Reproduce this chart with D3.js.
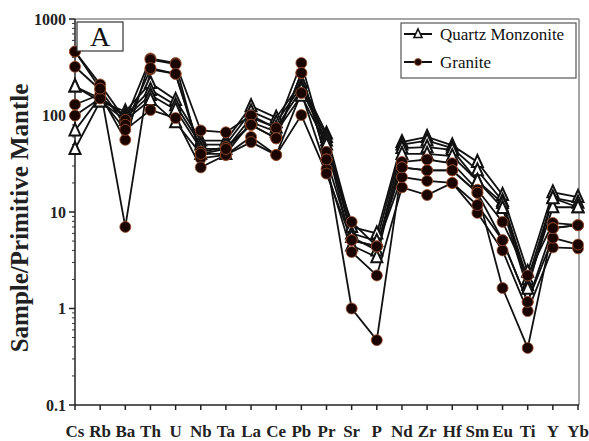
<!DOCTYPE html>
<html>
<head>
<meta charset="utf-8">
<script src="https://cdn.jsdelivr.net/npm/d3@7/dist/d3.min.js"></script>
<style>
  html, body { margin: 0; padding: 0; background: #fff; }
  svg { display: block; }
</style>
</head>
<body>
<svg id="chart" width="589" height="441" font-family="'Liberation Serif', 'Times New Roman', 'DejaVu Serif', serif"></svg>
<script>
// Trace elements, primitive-mantle normalised
const elements = ["Cs","Rb","Ba","Th","U","Nb","Ta","La","Ce","Pb","Pr","Sr","P","Nd","Zr","Hf","Sm","Eu","Ti","Y","Yb"];

// Quartz monzonite samples
const qm1 = [200,140,110,217,145,55,55,125,95,220,65,7.0,6.0,53,60,49,33,15,2.4,16,14.3];
const qm2 = [200,150,100,184,128,50,50,110,85,200,60,6.0,5.0,50,55,46,27,13,2.0,14,12.5];
const qm3 = [70,155,95,163,115,45,45,95,75,185,55,5.5,4.0,46,47,44,21,12.4,1.75,11.2,11.2];
const qm4 = [45,140,90,145,85,40,40,85,68,160,50,4.5,3.4,40,40,38,21,11,1.6,13.9,11.2];

// Granite samples
const gr1 = [460,210,90,390,350,70,67,100,74,350,42,7.9,4.4,33,35,32,17,7.9,2.2,7.7,7.3];
const gr2 = [320,185,80,300,270,42,47,80,58,275,35,5.1,4.4,29,27,27,15.8,5.1,1.17,6.8,7.3];
const gr3 = [130,165,56,380,340,36,39,60,39,171,28,3.85,2.2,18,15,20,9.8,4.0,0.94,4.3,4.2];
const gr4 = [100,150,71,114,94,29,39,53,39,101,25,5.1,4.4,23,21,20,11.8,5.1,1.17,5.4,4.6];
const gr5 = [460,190,7,310,270,40,45,80,58,276,35,1.0,0.47,29,27,27,15.8,1.63,0.39,6.8,7.3];

const quartzMonzonite = [qm1, qm2, qm3, qm4];
const granite = [gr1, gr2, gr3, gr4, gr5];

const yTicks = [0.1, 1, 10, 100, 1000];
const legendLabels = ["Quartz Monzonite", "Granite"];
const panelLabel = "A";
const yTitle = "Sample/Primitive Mantle";

const svg = d3.select("#chart");
const m = { left: 75, right: 578, top: 19, bottom: 405 };

const x = d3.scalePoint().domain(elements).range([m.left, m.right]);
const y = d3.scaleLog().domain([0.1, 1000]).range([m.bottom, m.top]);

// frame: grey top and right edges
svg.append("line").attr("x1", m.left).attr("x2", m.right + 1).attr("y1", m.top).attr("y2", m.top)
  .attr("stroke", "#888").attr("stroke-width", 1.5);
svg.append("line").attr("x1", m.right + 1).attr("x2", m.right + 1).attr("y1", m.top).attr("y2", m.bottom)
  .attr("stroke", "#888").attr("stroke-width", 1.5);

// y axis with log minor ticks
const minor = [];
for (let e = -1; e < 3; e++) for (let k = 2; k <= 9; k++) minor.push(k * Math.pow(10, e));
const yAxisG = svg.append("g").attr("transform", `translate(${m.left},0)`);
yAxisG.append("line").attr("x1", 0).attr("x2", 0).attr("y1", m.top).attr("y2", m.bottom)
  .attr("stroke", "#222").attr("stroke-width", 1.5);
yAxisG.selectAll(".minor").data(minor).join("line")
  .attr("x1", -3).attr("x2", 0).attr("y1", d => y(d)).attr("y2", d => y(d))
  .attr("stroke", "#333").attr("stroke-width", 1);
yAxisG.selectAll(".major").data(yTicks).join("line")
  .attr("x1", -6).attr("x2", 0).attr("y1", d => y(d)).attr("y2", d => y(d))
  .attr("stroke", "#222").attr("stroke-width", 1.5);
yAxisG.selectAll(".lab").data(yTicks).join("text")
  .attr("x", -9).attr("y", d => y(d)).attr("dy", "0.35em")
  .attr("text-anchor", "end").attr("font-size", 16).attr("font-weight", "bold")
  .attr("fill", "#222").text(d => d3.format("")(d));

// x axis
const xAxisG = svg.append("g").attr("transform", `translate(0,${m.bottom})`);
xAxisG.append("line").attr("x1", m.left).attr("x2", m.right + 1).attr("y1", 0).attr("y2", 0)
  .attr("stroke", "#222").attr("stroke-width", 1.5);
xAxisG.selectAll(".tk").data(elements).join("line")
  .attr("x1", d => x(d)).attr("x2", d => x(d)).attr("y1", 0).attr("y2", 5)
  .attr("stroke", "#222").attr("stroke-width", 1.5);
xAxisG.selectAll(".lab").data(elements).join("text")
  .attr("x", d => x(d)).attr("y", 32)
  .attr("text-anchor", "middle").attr("font-size", 17).attr("font-weight", "bold")
  .attr("fill", "#222").text(d => d);

// y title
svg.append("text")
  .attr("transform", `translate(28,${(m.top + m.bottom) / 2 + 6}) rotate(-90)`)
  .attr("text-anchor", "middle").attr("font-size", 25).attr("font-weight", "bold")
  .attr("fill", "#222").text(yTitle);

// series lines
const line = d3.line().x((d, i) => x(elements[i])).y(d => y(d));
const allSeries = quartzMonzonite.map(v => ({ kind: "qm", v })).concat(granite.map(v => ({ kind: "gr", v })));
svg.append("g").selectAll("path").data(allSeries).join("path")
  .attr("d", d => line(d.v)).attr("fill", "none")
  .attr("stroke", "#111").attr("stroke-width", 1.8);

// upward triangle, about 11 px wide and 12 px tall
const triPath = "M0,-7L5.5,5L-5.5,5Z";

function drawMarker(g, kind, cx, cy) {
  if (kind === "qm") {
    g.append("path").attr("d", triPath).attr("transform", `translate(${cx},${cy})`)
      .attr("fill", "#fff").attr("stroke", "#111").attr("stroke-width", 2);
  } else {
    g.append("circle").attr("cx", cx).attr("cy", cy).attr("r", 5.5)
      .attr("fill", "#1a0500").attr("stroke", "#a0522d").attr("stroke-width", 0.8);
  }
}

const markG = svg.append("g");
allSeries.forEach(s => {
  s.v.forEach((val, i) => drawMarker(markG, s.kind, x(elements[i]), y(val)));
});

// panel label
svg.append("rect").attr("x", 77).attr("y", 22).attr("width", 46).attr("height", 29)
  .attr("fill", "#fff").attr("stroke", "#333").attr("stroke-width", 1.2);
svg.append("text").attr("x", 100).attr("y", 46).attr("text-anchor", "middle")
  .attr("font-size", 28).attr("fill", "#111").text(panelLabel);

// legend
const lg = svg.append("g");
lg.append("rect").attr("x", 401).attr("y", 23).attr("width", 175).attr("height", 55)
  .attr("fill", "#fff").attr("stroke", "#555").attr("stroke-width", 1.2);
[["qm", 34], ["gr", 62]].forEach(([kind, ly], i) => {
  lg.append("line").attr("x1", 404).attr("x2", 432).attr("y1", ly).attr("y2", ly)
    .attr("stroke", "#111").attr("stroke-width", 2);
  if (kind === "qm") {
    lg.append("path").attr("d", "M0,-5L4,3.5L-4,3.5Z")
      .attr("transform", `translate(418,${ly})`).attr("fill", "#fff").attr("stroke", "#111").attr("stroke-width", 1.6);
  } else {
    lg.append("circle").attr("cx", 418).attr("cy", ly).attr("r", 3.5)
      .attr("fill", "#1a0500").attr("stroke", "#a0522d").attr("stroke-width", 0.8);
  }
  lg.append("text").attr("x", 440).attr("y", ly).attr("dy", "0.35em")
    .attr("font-size", 17).attr("fill", "#111").text(legendLabels[i]);
});
</script>
</body>
</html>
